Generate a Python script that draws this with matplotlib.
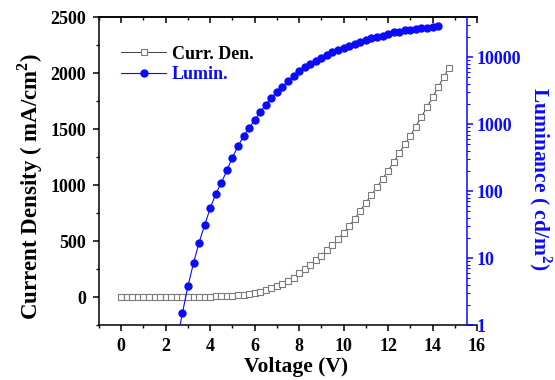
import numpy as np
import matplotlib
matplotlib.use('Agg')
import matplotlib.pyplot as plt
from matplotlib.ticker import MultipleLocator, LogLocator, FixedLocator, NullFormatter

plt.rcParams['font.family'] = 'Liberation Serif'
plt.rcParams['font.weight'] = 'bold'
plt.rcParams['mathtext.fontset'] = 'custom'
plt.rcParams['mathtext.rm'] = 'Liberation Serif:bold'
plt.rcParams['mathtext.bf'] = 'Liberation Serif:bold'

# current density (mA/cm2), 0 .. 14.75 V in 0.25 V steps
volt_j = [i * 0.25 for i in range(60)]
curr_den = [0, 0, 0, 0, 0, 0, 0, 0,
            0.1, 0.2, 0.4, 0.7, 1.0, 1.5, 2.1, 2.8, 3.7, 4.8, 6.2, 8,
            10, 14, 19, 26, 35, 47, 62, 79, 98, 119, 143, 172,
            210, 248, 287, 328, 370, 416, 464, 516, 572, 634, 698, 770,
            842, 912, 980, 1054, 1128, 1203, 1283, 1362, 1440, 1521, 1610, 1694,
            1784, 1873, 1962, 2048]

# luminance (cd/m2), 2.5 .. 14.25 V in 0.25 V steps
volt_l = [2.5 + i * 0.25 for i in range(48)]
lumin = [0.55, 1.5, 3.8, 8.4, 17, 31, 55, 91, 132, 204, 316, 468,
         661, 871, 1148, 1514, 1950, 2455, 3020, 3631, 4365, 5248, 6166, 7079,
         7943, 8913, 9772, 10715, 11749, 12589, 13490, 14454, 15849, 16982, 18197, 19055,
         19953, 20893, 22387, 23442, 23988, 25119, 25704, 26303, 26915, 27542, 28184, 28840]

xticks = [0, 2, 4, 6, 8, 10, 12, 14, 16]
lum_ticks = [1, 10, 100, 1000, 10000]
lum_labels = ['1', '10', '100', '1000', '10000']

blue = '#0a0aff'

fig = plt.figure(figsize=(5.55, 3.8), dpi=100)
ax = fig.add_axes([99 / 555, 55 / 380, 378 / 555, 308 / 380])

l1, = ax.plot(volt_j, curr_den, color='#404040', lw=0.7, marker='s', ms=4.2,
              mfc='white', mec='#7a7a7a', mew=0.8, label='Curr. Den.')
ax.set_xlim(-1, 16)
ax.set_ylim(-250, 2500)
ax.set_xticks(xticks)
ax.xaxis.set_minor_locator(MultipleLocator(1))
ax.yaxis.set_major_locator(MultipleLocator(500))
ax.yaxis.set_minor_locator(MultipleLocator(250))
ax.tick_params(axis='both', which='major', direction='out', length=4, width=1.1,
               labelsize=13, pad=5.5)
ax.tick_params(axis='both', which='minor', direction='out', length=2.5, width=1)
for sp in ['left', 'bottom', 'top']:
    ax.spines[sp].set_linewidth(1.1)
ax.spines['right'].set_visible(False)

ax.set_xlabel('Voltage (V)', fontsize=15.5, fontweight='bold')
ax.xaxis.set_label_coords(296 / 555, 1 - 367 / 380, transform=fig.transFigure)
ax.xaxis.label.set_va('center')
ax.set_ylabel('Current Density ( mA/cm$^2$)', fontsize=16.5, fontweight='bold')
ax.yaxis.set_label_coords(30 / 555, 1 - 186 / 380, transform=fig.transFigure)
ax.yaxis.label.set_va('center')

# top ticks inward
secx = ax.secondary_xaxis('top')
secx.set_xticks(xticks)
secx.xaxis.set_minor_locator(MultipleLocator(1))
secx.tick_params(which='major', direction='in', length=4, width=1.1, labeltop=False)
secx.tick_params(which='minor', direction='in', length=2.5, width=1)
secx.spines['top'].set_linewidth(1.1)

ax2 = ax.twinx()
l2, = ax2.plot(volt_l, lumin, color=blue, lw=0.8, marker='o', ms=5,
               mfc=blue, mec=blue, label='Lumin.')
ax2.set_yscale('log')
ax2.set_ylim(1, 10 ** 4.6)
ax2.set_xlim(-1, 16)
for sp in ['left', 'top', 'bottom']:
    ax2.spines[sp].set_visible(False)
ax2.spines['right'].set_position(('axes', 0.973))
ax2.spines['right'].set_color(blue)
ax2.spines['right'].set_linewidth(1.1)
ax2.yaxis.set_major_locator(FixedLocator(lum_ticks))
ax2.yaxis.set_minor_locator(LogLocator(base=10, subs=np.arange(2, 10)))
ax2.yaxis.set_minor_formatter(NullFormatter())
ax2.set_yticklabels(lum_labels)
ax2.tick_params(axis='y', which='major', direction='out', length=4, width=1.1,
                colors=blue, labelsize=13, pad=3)
ax2.tick_params(axis='y', which='minor', direction='out', length=2.3, width=0.8, colors=blue)
ax2.set_ylabel('Luminance ( cd/m$^2$)', fontsize=15.5, fontweight='bold', color=blue,
               rotation=270)
ax2.yaxis.set_label_coords(540 / 555, 1 - 179 / 380, transform=fig.transFigure)
ax2.yaxis.label.set_va('center')

leg = ax2.legend([l1, l2], ['Curr. Den.', 'Lumin.'], loc='upper left',
                 bbox_to_anchor=(0.04, 0.93), frameon=False, fontsize=13,
                 handlelength=2.5, handletextpad=0.3, labelspacing=0.2, borderaxespad=0)
leg.get_texts()[0].set_color('black')
leg.get_texts()[1].set_color(blue)

fig.savefig('out.png', dpi=100)
